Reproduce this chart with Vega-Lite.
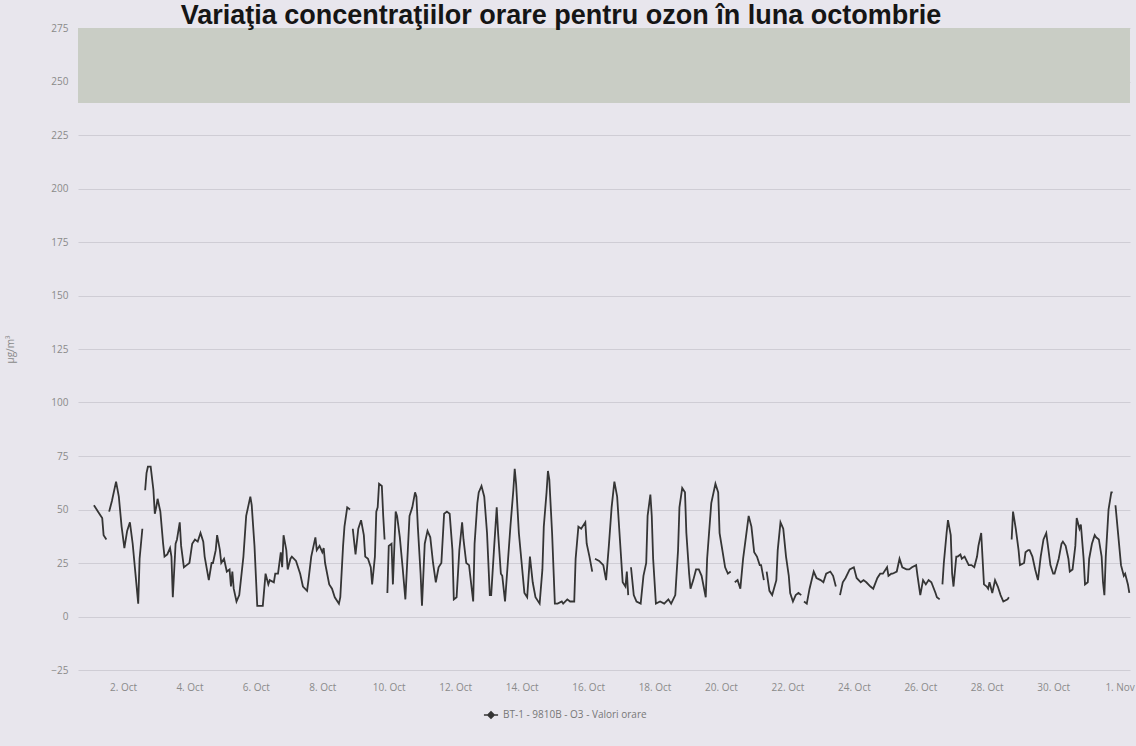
{
"$schema": "https://vega.github.io/schema/vega-lite/v6.json",
"width": 1052, "height": 642,
"autosize": {"type": "none"},
"padding": {"left": 78, "top": 28, "right": 6, "bottom": 76},
"background": "#e8e6ed",
"config": {"view": {"stroke": null}, "font": "Open Sans"},
"title": {"text": "Variaţia concentraţiilor orare pentru ozon în luna octombrie", "font": "Liberation Sans", "fontSize": 27, "fontWeight": "bold", "color": "#151515", "anchor": "middle", "dx": -43, "offset": 0, "dy": 7},
"layer": [
{
"data": {"values": [{"a": 240, "b": 275}]},
"mark": {"type": "rect", "color": "#c9cdc5"},
"encoding": {
"y": {"field": "a", "type": "quantitative", "scale": {"domain": [-25, 275], "nice": false, "zero": false},
"axis": {"values": [-25, 0, 25, 50, 75, 100, 125, 150, 175, 200, 225, 250, 275], "title": "µg/m³", "titleFontSize": 10, "titleFontWeight": "normal", "titleColor": "#8a8a8a", "titleX": -63, "titleY": 321, "titleAlign": "center", "labelColor": "#8a8a8a", "labelFontSize": 10, "labelPadding": 10, "domain": false, "ticks": false, "gridColor": "#cfcdd5", "gridWidth": 1}},
"y2": {"field": "b"}
}
},
{
"data": {"values": [
{"t":"2023-10-01T03:00","v":52},{"t":"2023-10-01T06:00","v":49},{"t":"2023-10-01T08:00","v":47},{"t":"2023-10-01T09:00","v":46},{"t":"2023-10-01T10:00","v":38},{"t":"2023-10-01T12:00","v":36},{"t":"2023-10-01T13:00","v":null},
{"t":"2023-10-01T14:00","v":49},{"t":"2023-10-01T16:00","v":54},{"t":"2023-10-01T19:00","v":63},{"t":"2023-10-01T21:00","v":56},{"t":"2023-10-01T23:00","v":42},
{"t":"2023-10-02T01:00","v":32},{"t":"2023-10-02T03:00","v":40},{"t":"2023-10-02T05:00","v":44},{"t":"2023-10-02T07:00","v":34},{"t":"2023-10-02T09:00","v":20},{"t":"2023-10-02T11:00","v":6},{"t":"2023-10-02T12:00","v":27},{"t":"2023-10-02T14:00","v":41},{"t":"2023-10-02T15:00","v":null},
{"t":"2023-10-02T16:00","v":59},{"t":"2023-10-02T17:00","v":67},{"t":"2023-10-02T18:00","v":70},{"t":"2023-10-02T20:00","v":70},{"t":"2023-10-02T22:00","v":59},{"t":"2023-10-02T23:00","v":48},
{"t":"2023-10-03T00:00","v":51},{"t":"2023-10-03T01:00","v":55},{"t":"2023-10-03T03:00","v":49},{"t":"2023-10-03T05:00","v":34},{"t":"2023-10-03T06:00","v":28},{"t":"2023-10-03T08:00","v":29},{"t":"2023-10-03T10:00","v":32},{"t":"2023-10-03T11:00","v":28},{"t":"2023-10-03T12:00","v":9},{"t":"2023-10-03T14:00","v":34},{"t":"2023-10-03T15:00","v":36},{"t":"2023-10-03T17:00","v":44},{"t":"2023-10-03T18:00","v":33},{"t":"2023-10-03T20:00","v":23},{"t":"2023-10-03T22:00","v":24},
{"t":"2023-10-04T00:00","v":25},{"t":"2023-10-04T02:00","v":34},{"t":"2023-10-04T04:00","v":36},{"t":"2023-10-04T06:00","v":35},{"t":"2023-10-04T08:00","v":39},{"t":"2023-10-04T10:00","v":35},{"t":"2023-10-04T11:00","v":28},{"t":"2023-10-04T14:00","v":17},{"t":"2023-10-04T16:00","v":25},{"t":"2023-10-04T17:00","v":25},{"t":"2023-10-04T19:00","v":31},{"t":"2023-10-04T20:00","v":38},{"t":"2023-10-04T22:00","v":31},{"t":"2023-10-04T23:00","v":25},
{"t":"2023-10-05T01:00","v":27},{"t":"2023-10-05T03:00","v":21},{"t":"2023-10-05T05:00","v":22},{"t":"2023-10-05T06:00","v":14},{"t":"2023-10-05T07:00","v":21},{"t":"2023-10-05T08:00","v":13},{"t":"2023-10-05T10:00","v":7},{"t":"2023-10-05T12:00","v":10},{"t":"2023-10-05T15:00","v":28},{"t":"2023-10-05T17:00","v":47},{"t":"2023-10-05T20:00","v":56},{"t":"2023-10-05T21:00","v":52},{"t":"2023-10-05T23:00","v":33},
{"t":"2023-10-06T01:00","v":5},{"t":"2023-10-06T04:00","v":5},{"t":"2023-10-06T05:00","v":5},{"t":"2023-10-06T07:00","v":20},{"t":"2023-10-06T09:00","v":15},{"t":"2023-10-06T10:00","v":17},{"t":"2023-10-06T13:00","v":16},{"t":"2023-10-06T14:00","v":20},{"t":"2023-10-06T16:00","v":20},{"t":"2023-10-06T18:00","v":30},{"t":"2023-10-06T19:00","v":23},{"t":"2023-10-06T20:00","v":38},{"t":"2023-10-06T22:00","v":31},{"t":"2023-10-06T23:00","v":22},
{"t":"2023-10-07T01:00","v":27},{"t":"2023-10-07T02:00","v":28},{"t":"2023-10-07T05:00","v":26},{"t":"2023-10-07T08:00","v":20},{"t":"2023-10-07T10:00","v":14},{"t":"2023-10-07T13:00","v":12},{"t":"2023-10-07T14:00","v":17},{"t":"2023-10-07T16:00","v":28},{"t":"2023-10-07T19:00","v":37},{"t":"2023-10-07T20:00","v":31},{"t":"2023-10-07T22:00","v":33},
{"t":"2023-10-08T00:00","v":30},{"t":"2023-10-08T01:00","v":32},{"t":"2023-10-08T02:00","v":25},{"t":"2023-10-08T05:00","v":15},{"t":"2023-10-08T07:00","v":13},{"t":"2023-10-08T09:00","v":9},{"t":"2023-10-08T12:00","v":6},{"t":"2023-10-08T13:00","v":9},{"t":"2023-10-08T15:00","v":33},{"t":"2023-10-08T16:00","v":42},{"t":"2023-10-08T18:00","v":51},{"t":"2023-10-08T20:00","v":50},{"t":"2023-10-08T21:00","v":null},{"t":"2023-10-08T22:00","v":41},
{"t":"2023-10-09T00:00","v":29},{"t":"2023-10-09T02:00","v":41},{"t":"2023-10-09T04:00","v":45},{"t":"2023-10-09T06:00","v":38},{"t":"2023-10-09T07:00","v":28},{"t":"2023-10-09T09:00","v":27},{"t":"2023-10-09T11:00","v":23},{"t":"2023-10-09T12:00","v":15},{"t":"2023-10-09T14:00","v":28},{"t":"2023-10-09T15:00","v":49},{"t":"2023-10-09T16:00","v":51},{"t":"2023-10-09T17:00","v":62},{"t":"2023-10-09T19:00","v":61},{"t":"2023-10-09T20:00","v":47},{"t":"2023-10-09T21:00","v":36},{"t":"2023-10-09T22:00","v":null},{"t":"2023-10-09T23:00","v":11},
{"t":"2023-10-10T00:00","v":33},{"t":"2023-10-10T02:00","v":34},{"t":"2023-10-10T03:00","v":15},{"t":"2023-10-10T05:00","v":49},{"t":"2023-10-10T06:00","v":47},{"t":"2023-10-10T08:00","v":37},{"t":"2023-10-10T10:00","v":23},{"t":"2023-10-10T12:00","v":8},{"t":"2023-10-10T14:00","v":34},{"t":"2023-10-10T15:00","v":47},{"t":"2023-10-10T17:00","v":51},{"t":"2023-10-10T19:00","v":58},{"t":"2023-10-10T20:00","v":56},{"t":"2023-10-10T21:00","v":42},{"t":"2023-10-10T23:00","v":20},
{"t":"2023-10-11T00:00","v":5},{"t":"2023-10-11T02:00","v":34},{"t":"2023-10-11T04:00","v":40},{"t":"2023-10-11T06:00","v":37},{"t":"2023-10-11T08:00","v":25},{"t":"2023-10-11T10:00","v":16},{"t":"2023-10-11T12:00","v":23},{"t":"2023-10-11T14:00","v":25},{"t":"2023-10-11T16:00","v":48},{"t":"2023-10-11T18:00","v":49},{"t":"2023-10-11T20:00","v":48},{"t":"2023-10-11T22:00","v":31},{"t":"2023-10-11T23:00","v":8},
{"t":"2023-10-12T01:00","v":9},{"t":"2023-10-12T03:00","v":31},{"t":"2023-10-12T05:00","v":44},{"t":"2023-10-12T06:00","v":36},{"t":"2023-10-12T08:00","v":25},{"t":"2023-10-12T10:00","v":24},{"t":"2023-10-12T13:00","v":7},{"t":"2023-10-12T14:00","v":34},{"t":"2023-10-12T16:00","v":53},{"t":"2023-10-12T17:00","v":58},{"t":"2023-10-12T19:00","v":61},{"t":"2023-10-12T21:00","v":56},{"t":"2023-10-12T23:00","v":39},
{"t":"2023-10-13T01:00","v":10},{"t":"2023-10-13T02:00","v":10},{"t":"2023-10-13T04:00","v":31},{"t":"2023-10-13T06:00","v":51},{"t":"2023-10-13T07:00","v":39},{"t":"2023-10-13T09:00","v":20},{"t":"2023-10-13T10:00","v":19},{"t":"2023-10-13T12:00","v":7},{"t":"2023-10-13T14:00","v":25},{"t":"2023-10-13T16:00","v":43},{"t":"2023-10-13T18:00","v":59},{"t":"2023-10-13T19:00","v":69},{"t":"2023-10-13T20:00","v":62},{"t":"2023-10-13T22:00","v":39},
{"t":"2023-10-14T00:00","v":25},{"t":"2023-10-14T02:00","v":11},{"t":"2023-10-14T04:00","v":9},{"t":"2023-10-14T06:00","v":28},{"t":"2023-10-14T08:00","v":16},{"t":"2023-10-14T10:00","v":9},{"t":"2023-10-14T13:00","v":6},{"t":"2023-10-14T15:00","v":22},{"t":"2023-10-14T16:00","v":42},{"t":"2023-10-14T18:00","v":58},{"t":"2023-10-14T19:00","v":68},{"t":"2023-10-14T20:00","v":64},{"t":"2023-10-14T22:00","v":39},
{"t":"2023-10-15T00:00","v":6},{"t":"2023-10-15T02:00","v":6},{"t":"2023-10-15T05:00","v":7},{"t":"2023-10-15T06:00","v":6},{"t":"2023-10-15T09:00","v":8},{"t":"2023-10-15T11:00","v":7},{"t":"2023-10-15T14:00","v":7},{"t":"2023-10-15T15:00","v":27},{"t":"2023-10-15T17:00","v":42},{"t":"2023-10-15T19:00","v":41},{"t":"2023-10-15T22:00","v":44},{"t":"2023-10-15T23:00","v":34},
{"t":"2023-10-16T01:00","v":28},{"t":"2023-10-16T03:00","v":21},{"t":"2023-10-16T04:00","v":null},{"t":"2023-10-16T05:00","v":27},{"t":"2023-10-16T08:00","v":26},{"t":"2023-10-16T11:00","v":24},{"t":"2023-10-16T13:00","v":17},{"t":"2023-10-16T15:00","v":33},{"t":"2023-10-16T17:00","v":51},{"t":"2023-10-16T19:00","v":63},{"t":"2023-10-16T21:00","v":56},{"t":"2023-10-16T23:00","v":36},
{"t":"2023-10-17T01:00","v":16},{"t":"2023-10-17T03:00","v":14},{"t":"2023-10-17T04:00","v":21},{"t":"2023-10-17T05:00","v":10},{"t":"2023-10-17T06:00","v":null},{"t":"2023-10-17T07:00","v":23},{"t":"2023-10-17T09:00","v":10},{"t":"2023-10-17T11:00","v":7},{"t":"2023-10-17T14:00","v":6},{"t":"2023-10-17T16:00","v":19},{"t":"2023-10-17T18:00","v":25},{"t":"2023-10-17T19:00","v":47},{"t":"2023-10-17T21:00","v":57},{"t":"2023-10-17T22:00","v":47},{"t":"2023-10-17T23:00","v":27},
{"t":"2023-10-18T01:00","v":6},{"t":"2023-10-18T04:00","v":7},{"t":"2023-10-18T07:00","v":6},{"t":"2023-10-18T10:00","v":8},{"t":"2023-10-18T12:00","v":6},{"t":"2023-10-18T15:00","v":10},{"t":"2023-10-18T17:00","v":31},{"t":"2023-10-18T18:00","v":51},{"t":"2023-10-18T20:00","v":60},{"t":"2023-10-18T22:00","v":58},{"t":"2023-10-18T23:00","v":39},
{"t":"2023-10-19T01:00","v":20},{"t":"2023-10-19T02:00","v":13},{"t":"2023-10-19T04:00","v":17},{"t":"2023-10-19T06:00","v":22},{"t":"2023-10-19T08:00","v":22},{"t":"2023-10-19T10:00","v":19},{"t":"2023-10-19T13:00","v":9},{"t":"2023-10-19T14:00","v":27},{"t":"2023-10-19T17:00","v":53},{"t":"2023-10-19T20:00","v":62},{"t":"2023-10-19T22:00","v":58},{"t":"2023-10-19T23:00","v":39},
{"t":"2023-10-20T01:00","v":31},{"t":"2023-10-20T03:00","v":23},{"t":"2023-10-20T05:00","v":20},{"t":"2023-10-20T07:00","v":21},{"t":"2023-10-20T08:00","v":null},{"t":"2023-10-20T10:00","v":16},{"t":"2023-10-20T12:00","v":17},{"t":"2023-10-20T14:00","v":13},{"t":"2023-10-20T16:00","v":27},{"t":"2023-10-20T19:00","v":42},{"t":"2023-10-20T20:00","v":47},{"t":"2023-10-20T22:00","v":42},
{"t":"2023-10-21T00:00","v":30},{"t":"2023-10-21T02:00","v":28},{"t":"2023-10-21T04:00","v":24},{"t":"2023-10-21T05:00","v":24},{"t":"2023-10-21T07:00","v":17},{"t":"2023-10-21T08:00","v":null},{"t":"2023-10-21T09:00","v":21},{"t":"2023-10-21T11:00","v":12},{"t":"2023-10-21T13:00","v":10},{"t":"2023-10-21T16:00","v":17},{"t":"2023-10-21T17:00","v":31},{"t":"2023-10-21T19:00","v":44},{"t":"2023-10-21T21:00","v":41},{"t":"2023-10-21T23:00","v":28},
{"t":"2023-10-22T01:00","v":19},{"t":"2023-10-22T02:00","v":11},{"t":"2023-10-22T04:00","v":7},{"t":"2023-10-22T06:00","v":10},{"t":"2023-10-22T08:00","v":11},{"t":"2023-10-22T10:00","v":10},{"t":"2023-10-22T11:00","v":null},{"t":"2023-10-22T12:00","v":7},{"t":"2023-10-22T14:00","v":6},{"t":"2023-10-22T16:00","v":13},{"t":"2023-10-22T19:00","v":21},{"t":"2023-10-22T21:00","v":18},
{"t":"2023-10-23T00:00","v":17},{"t":"2023-10-23T02:00","v":16},{"t":"2023-10-23T04:00","v":20},{"t":"2023-10-23T07:00","v":21},{"t":"2023-10-23T09:00","v":19},{"t":"2023-10-23T11:00","v":14},{"t":"2023-10-23T12:00","v":null},{"t":"2023-10-23T14:00","v":10},{"t":"2023-10-23T16:00","v":16},{"t":"2023-10-23T18:00","v":18},{"t":"2023-10-23T21:00","v":22},
{"t":"2023-10-24T00:00","v":23},{"t":"2023-10-24T02:00","v":18},{"t":"2023-10-24T05:00","v":16},{"t":"2023-10-24T07:00","v":17},{"t":"2023-10-24T09:00","v":16},{"t":"2023-10-24T12:00","v":14},{"t":"2023-10-24T14:00","v":13},{"t":"2023-10-24T17:00","v":18},{"t":"2023-10-24T19:00","v":20},{"t":"2023-10-24T21:00","v":20},
{"t":"2023-10-25T00:00","v":23},{"t":"2023-10-25T01:00","v":19},{"t":"2023-10-25T03:00","v":20},{"t":"2023-10-25T04:00","v":20},{"t":"2023-10-25T07:00","v":21},{"t":"2023-10-25T09:00","v":27},{"t":"2023-10-25T11:00","v":23},{"t":"2023-10-25T14:00","v":22},{"t":"2023-10-25T16:00","v":22},{"t":"2023-10-25T18:00","v":23},{"t":"2023-10-25T21:00","v":24},{"t":"2023-10-25T22:00","v":19},
{"t":"2023-10-26T00:00","v":10},{"t":"2023-10-26T02:00","v":17},{"t":"2023-10-26T04:00","v":15},{"t":"2023-10-26T06:00","v":17},{"t":"2023-10-26T08:00","v":16},{"t":"2023-10-26T11:00","v":11},{"t":"2023-10-26T12:00","v":9},{"t":"2023-10-26T14:00","v":8},{"t":"2023-10-26T15:00","v":null},{"t":"2023-10-26T16:00","v":15},{"t":"2023-10-26T17:00","v":25},{"t":"2023-10-26T19:00","v":39},{"t":"2023-10-26T20:00","v":45},{"t":"2023-10-26T22:00","v":38},{"t":"2023-10-26T23:00","v":20},
{"t":"2023-10-27T00:00","v":14},{"t":"2023-10-27T02:00","v":28},{"t":"2023-10-27T03:00","v":28},{"t":"2023-10-27T05:00","v":29},{"t":"2023-10-27T06:00","v":27},{"t":"2023-10-27T08:00","v":28},{"t":"2023-10-27T11:00","v":24},{"t":"2023-10-27T13:00","v":24},{"t":"2023-10-27T15:00","v":23},{"t":"2023-10-27T17:00","v":28},{"t":"2023-10-27T18:00","v":33},{"t":"2023-10-27T20:00","v":39},{"t":"2023-10-27T21:00","v":27},{"t":"2023-10-27T22:00","v":15},
{"t":"2023-10-28T00:00","v":14},{"t":"2023-10-28T01:00","v":13},{"t":"2023-10-28T02:00","v":16},{"t":"2023-10-28T04:00","v":11},{"t":"2023-10-28T06:00","v":17},{"t":"2023-10-28T08:00","v":14},{"t":"2023-10-28T10:00","v":10},{"t":"2023-10-28T12:00","v":7},{"t":"2023-10-28T15:00","v":8},{"t":"2023-10-28T16:00","v":9},{"t":"2023-10-28T17:00","v":null},{"t":"2023-10-28T18:00","v":36},{"t":"2023-10-28T19:00","v":49},{"t":"2023-10-28T20:00","v":45},{"t":"2023-10-28T21:00","v":41},{"t":"2023-10-28T23:00","v":31},
{"t":"2023-10-29T00:00","v":24},{"t":"2023-10-29T03:00","v":25},{"t":"2023-10-29T04:00","v":30},{"t":"2023-10-29T06:00","v":31},{"t":"2023-10-29T07:00","v":31},{"t":"2023-10-29T09:00","v":28},{"t":"2023-10-29T11:00","v":22},{"t":"2023-10-29T13:00","v":17},{"t":"2023-10-29T15:00","v":28},{"t":"2023-10-29T17:00","v":36},{"t":"2023-10-29T19:00","v":39},{"t":"2023-10-29T20:00","v":34},{"t":"2023-10-29T22:00","v":24},
{"t":"2023-10-30T00:00","v":20},{"t":"2023-10-30T01:00","v":20},{"t":"2023-10-30T04:00","v":27},{"t":"2023-10-30T06:00","v":34},{"t":"2023-10-30T07:00","v":35},{"t":"2023-10-30T09:00","v":33},{"t":"2023-10-30T11:00","v":27},{"t":"2023-10-30T12:00","v":21},{"t":"2023-10-30T14:00","v":22},{"t":"2023-10-30T16:00","v":33},{"t":"2023-10-30T17:00","v":46},{"t":"2023-10-30T19:00","v":41},{"t":"2023-10-30T20:00","v":43},{"t":"2023-10-30T22:00","v":27},{"t":"2023-10-30T23:00","v":15},
{"t":"2023-10-31T01:00","v":16},{"t":"2023-10-31T02:00","v":27},{"t":"2023-10-31T04:00","v":34},{"t":"2023-10-31T06:00","v":38},{"t":"2023-10-31T07:00","v":37},{"t":"2023-10-31T09:00","v":36},{"t":"2023-10-31T11:00","v":28},{"t":"2023-10-31T12:00","v":16},{"t":"2023-10-31T13:00","v":10},{"t":"2023-10-31T14:00","v":28},{"t":"2023-10-31T16:00","v":50},{"t":"2023-10-31T18:00","v":58},{"t":"2023-10-31T19:00","v":58},{"t":"2023-10-31T20:00","v":null},{"t":"2023-10-31T21:00","v":52},{"t":"2023-10-31T23:00","v":38},
{"t":"2023-11-01T01:00","v":24},{"t":"2023-11-01T03:00","v":19},{"t":"2023-11-01T04:00","v":20},{"t":"2023-11-01T06:00","v":15},{"t":"2023-11-01T07:00","v":11}
], "format": {"parse": {"t": "utc:'%Y-%m-%dT%H:%M'"}}},
"mark": {"type": "line", "strokeWidth": 1.8, "invalid": "break-paths-show-domains"},
"encoding": {
"x": {"field": "t", "type": "temporal", "scale": {"type": "utc", "domain": [{"year": 2023, "month": 9, "date": 30, "hours": 15, "minutes": 30, "utc": true}, {"year": 2023, "month": 11, "date": 1, "hours": 7, "minutes": 30, "utc": true}]},
"axis": {"title": null, "format": "%-d. %b", "values": [
{"year": 2023, "month": 10, "date": 2, "utc": true},{"year": 2023, "month": 10, "date": 4, "utc": true},{"year": 2023, "month": 10, "date": 6, "utc": true},{"year": 2023, "month": 10, "date": 8, "utc": true},{"year": 2023, "month": 10, "date": 10, "utc": true},{"year": 2023, "month": 10, "date": 12, "utc": true},{"year": 2023, "month": 10, "date": 14, "utc": true},{"year": 2023, "month": 10, "date": 16, "utc": true},{"year": 2023, "month": 10, "date": 18, "utc": true},{"year": 2023, "month": 10, "date": 20, "utc": true},{"year": 2023, "month": 10, "date": 22, "utc": true},{"year": 2023, "month": 10, "date": 24, "utc": true},{"year": 2023, "month": 10, "date": 26, "utc": true},{"year": 2023, "month": 10, "date": 28, "utc": true},{"year": 2023, "month": 10, "date": 30, "utc": true},{"year": 2023, "month": 11, "date": 1, "utc": true}],
"grid": false, "domain": false, "ticks": false, "labelColor": "#8a8a8a", "labelFontSize": 10, "labelPadding": 12, "labelOverlap": false, "labelBound": false, "labelFlush": false}},
"y": {"field": "v", "type": "quantitative"},
"color": {"datum": "BT-1 - 9810B - O3 - Valori orare", "scale": {"range": ["#353535"]},
"legend": {"title": null, "orient": "none", "legendX": 405, "legendY": 679, "labelColor": "#777", "labelFontSize": 10, "symbolType": "M-1,0L1,0M0,-0.45L0.45,0L0,0.45L-0.45,0Z", "symbolSize": 200, "symbolStrokeWidth": 1.5, "symbolFillColor": "#353535", "labelOffset": 4}}
}
}
]
}
